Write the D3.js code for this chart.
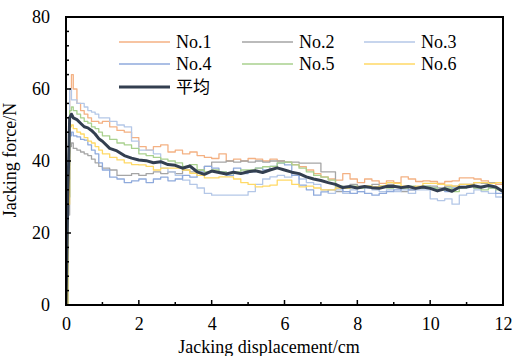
<!DOCTYPE html>
<html><head><meta charset="utf-8">
<script src="https://cdn.jsdelivr.net/npm/d3@7"></script>
<style>html,body{margin:0;padding:0;background:#fff;}svg{display:block;} text{font-family:"Liberation Serif","Times New Roman",serif;}</style>
</head><body><svg id="c" width="513" height="356"></svg>
<script>
const xs = [0,0.05,0.1,0.15,0.2,0.3,0.4,0.5,0.6,0.7,0.8,0.9,1.0,1.2,1.4,1.6,1.8,2.0,2.2,2.4,2.6,2.8,3.0,3.2,3.4,3.6,3.8,4.0,4.2,4.4,4.6,4.8,5.0,5.2,5.4,5.6,5.8,6.0,6.2,6.4,6.6,6.8,7.0,7.2,7.4,7.6,7.8,8.0,8.2,8.4,8.6,8.8,9.0,9.2,9.4,9.6,9.8,10.0,10.2,10.4,10.6,10.8,11.0,11.2,11.4,11.6,11.8,12.0];
const no1 = [0,35,60,64,60,56,54,53,52,51,51,50.5,51,49.5,48.5,48,46.5,44,43,44,44.5,42.5,43,42,42.5,41.5,41,40.7,42,40,40.5,40,40.7,40.5,40,40.5,40,39.7,39,38.4,37.5,36.5,35.6,35,34.7,36.5,35,34,35,34.5,33.8,34.5,34,35.6,35,34.3,34.5,34.3,33.8,34.3,34.5,35.3,35.3,35,34.5,33.8,33.5,33];
const no2 = [0,25,44,45,43.5,43,42.5,42,41.5,40.5,39.5,38.5,38,37.5,36,36,36.5,36,36.5,37,36.5,37,36.5,37.5,37,37.5,38.5,39.7,39.7,40,39.7,40,39.7,40,39.7,40,40,39.7,39.7,39.4,39.4,39.4,37,37,31.5,33,33.5,33,33,33.5,33,33.5,33,31.5,32,32.5,32.5,33,32.5,33,33,33.5,33.5,34,33.8,34,34,35];
const no3 = [0,35,60,57,57,56,56,55,54,53.6,53,52,52,51,50,49.5,45.5,43,43,42,38,37,36,34.7,33.5,32.5,31,30.5,30.5,30.5,30.5,30.5,31.5,33.5,35,35.6,36,35.5,36,35,34,33.5,32,31,32,31,32,31.5,32.5,32,31.5,32,31.5,32,31,32,32,29.5,29,29.5,28,30.5,31,32,31.5,31,30,27];
const no4 = [0,30,47,48,47,46.7,46,45.8,44.5,43,42,39.5,37.5,35.5,35,34,34.5,35,34,35,35.5,34.5,35,36,35.5,37,38.5,38,37,36,38,36.5,37,38,37.5,38.5,39.4,38.9,36,33.3,32,30.5,31.4,32,32.5,31.5,31,31.5,31,30.5,31,31.5,32,32.5,32,32.5,33,32.5,32,31.5,32.5,32.5,33,32.5,33,32.5,31,29];
const no5 = [0,30,54,55,54,53,52,51,50.5,49.5,49,48,47,46,45,44.5,43.5,42,41.5,41,40.5,40,39.5,38.5,39,37.5,37,37.5,37,36.5,37,37.5,37.5,38,38.4,38.5,39.5,39.7,38.9,38,37,36,35.5,34.7,33,32.5,33,32.5,33,32.5,33,32.5,33,32.5,33,32.5,33,32.5,32,32.5,31.5,32.5,33,32.5,32,32.5,32,31.5];
const no6 = [0,28,49.5,50,49,48,47.5,46.5,45.5,45,44,43,42,41,40.3,39.5,39,38.9,38.5,37.5,38,38,38,37.5,36.6,36,35.3,35.3,35.6,35.6,35,34,33.5,32.8,33,33.3,34.7,34.7,33.5,32.8,33,32.5,32,32,32.5,32.5,32.8,32.8,33,32.8,33,34,33.8,33,32.8,33,33.8,33.8,33.5,33.3,33,33.5,33.5,34,34,33.8,34,33.8];
const avg = [0,30,52,53,52,51.5,50.5,49.5,49.2,48.5,47.5,46.2,45.5,43.5,42.8,41.5,40.8,40.3,40.1,39.5,39.8,39,38.8,38,38.6,37,36.3,37.2,36.8,36.4,36.9,36.5,37,37.3,36.8,37.5,38.1,37.5,36.9,36.5,35.6,35,34.6,34,33.5,32.6,32.9,32.5,32.9,32.6,32.4,32.9,33,32.6,32.9,32.4,32.8,32.4,31.7,32.3,31.6,32.7,32.8,33.1,32.7,33.2,32.8,31.5];
const seriesNames = ["No.1","No.2","No.3","No.4","No.5","No.6","平均"];
const seriesColors = ["#f4b183","#a5a5a5","#b4c7e7","#8faadc","#a9d18e","#ffd966","#333f50"];
const xTicks = [0,2,4,6,8,10,12];
const yTicks = [0,20,40,60,80];

const svg = d3.select("#c");
const L=66, R=503, T=17, B=305;
const x = d3.scaleLinear().domain([0,12]).range([L,R]);
const y = d3.scaleLinear().domain([0,80]).range([B,T]);
const font = '"Liberation Serif","Times New Roman",serif';

svg.append("defs").append("clipPath").attr("id","clip").append("rect")
  .attr("x",L).attr("y",T).attr("width",R-L).attr("height",B-T);

const allSeries = [no1,no2,no3,no4,no5,no6,avg];
const g = svg.append("g").attr("clip-path","url(#clip)");
allSeries.forEach((s,i)=>{
  const isAvg = i===6;
  const line = d3.line().x((d,j)=>x(xs[j])).y(d=>y(d))
    .curve(isAvg ? d3.curveLinear : d3.curveStepAfter);
  g.append("path").datum(s).attr("d",line).attr("fill","none")
    .attr("stroke",seriesColors[i]).attr("stroke-width",isAvg?3:1.3)
    .attr("stroke-linejoin","round");
});

const tickG = svg.append("g").attr("stroke","#000").attr("stroke-width",1.5);
d3.range(1,12,1).forEach(v=>{
  const len = v%2===0?5:3;
  tickG.append("line").attr("x1",x(v)).attr("x2",x(v)).attr("y1",B).attr("y2",B-len);
});
d3.range(4,80,4).forEach(v=>{
  const len = v%20===0?5:3;
  tickG.append("line").attr("x1",L).attr("x2",L+len).attr("y1",y(v)).attr("y2",y(v));
});
svg.append("rect").attr("x",L).attr("y",T).attr("width",R-L).attr("height",B-T)
  .attr("fill","none").attr("stroke","#000").attr("stroke-width",2);

const yAxis = d3.axisLeft(y).tickValues(yTicks).tickSize(0).tickPadding(16);
svg.append("g").attr("transform",`translate(${L},0)`).call(yAxis)
  .attr("font-family",null).attr("font-size",null)
  .call(a=>a.select(".domain").remove())
  .selectAll("text").style("font-family",font).style("font-size","18px").attr("fill","#000");
const xAx2 = d3.axisBottom(x).tickValues(xTicks).tickSize(0).tickPadding(12);
svg.append("g").attr("transform",`translate(0,${B})`).call(xAx2)
  .attr("font-family",null).attr("font-size",null)
  .call(a=>a.select(".domain").remove())
  .selectAll("text").style("font-family",font).style("font-size","18px").attr("fill","#000");

svg.append("text").attr("x",269).attr("y",353).attr("text-anchor","middle")
  .style("font-family",font).style("font-size","18px").text("Jacking displacement/cm");
svg.append("text").attr("transform","translate(16,160) rotate(-90)").attr("text-anchor","middle")
  .style("font-family",font).style("font-size","18px").text("Jacking force/N");

const legPos = [[119,42],[242,42],[364,42],[119,64],[242,64],[364,64],[119,87]];
seriesNames.forEach((n,i)=>{
  const [lx,ly] = legPos[i];
  svg.append("line").attr("x1",lx).attr("x2",lx+51).attr("y1",ly).attr("y2",ly)
    .attr("stroke",seriesColors[i]).attr("stroke-width",i===6?3:1.3);
  svg.append("text").attr("x",lx+57).attr("y",ly+6)
    .style("font-family", i===6 ? '"Noto Sans CJK SC",sans-serif' : font)
    .style("font-size", i===6 ? "17px" : "18px").text(n);
});
</script></body></html>
